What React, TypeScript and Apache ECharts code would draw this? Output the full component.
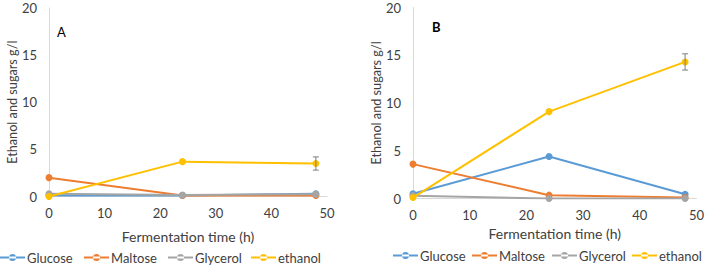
import React, { useEffect, useRef } from "react";
import * as echarts from "echarts";

const times = [0, 24, 48];
const seriesNames = ["Glucose", "Maltose", "Glycerol", "ethanol"];
const colors = ["#5B9BD5", "#ED7D31", "#A5A5A5", "#FFC000"];

const glucoseA = [0.1, 0.1, 0.3];
const maltoseA = [2.0, 0.1, 0.1];
const glycerolA = [0.3, 0.15, 0.25];
const ethanolA = [0.0, 3.7, 3.5];
const ethanolErrA = [0, 0, 0.7];

const glucoseB = [0.5, 4.4, 0.45];
const maltoseB = [3.6, 0.35, 0.1];
const glycerolB = [0.3, 0.0, 0.0];
const ethanolB = [0.1, 9.1, 14.3];
const ethanolErrB = [0, 0, 0.85];

const xTicks = [0, 10, 20, 30, 40, 50];
const yTicks = [0, 5, 10, 15, 20];

const FONT = "Lato, 'Open Sans', sans-serif";
const TXT = "#404040";
const LEGEND_ICON =
  "path://M0,2.5L25,2.5L25,4.5L0,4.5Z M9,3.5A3.5,3.5 0 1 0 16,3.5A3.5,3.5 0 1 0 9,3.5Z";

export default function App() {
  const ref = useRef<HTMLDivElement>(null);
  useEffect(() => {
    if (!ref.current) return;
    const chart = echarts.init(ref.current, undefined, { renderer: "svg" });
    const pair = (vals: number[]) => times.map((t, i) => [t, vals[i]]);
    const dataA = [glucoseA, maltoseA, glycerolA, ethanolA];
    const dataB = [glucoseB, maltoseB, glycerolB, ethanolB];

    const lineSeries = (vals: number[], idx: number, axis: number) => ({
      type: "line",
      name: seriesNames[idx],
      xAxisIndex: axis,
      yAxisIndex: axis,
      data: pair(vals),
      symbol: "circle",
      symbolSize: 7,
      lineStyle: { width: 2, color: colors[idx] },
      itemStyle: { color: colors[idx] },
      z: 2 + idx,
    });

    const errSeries = (vals: number[], errs: number[], axis: number) => ({
      type: "custom",
      name: "err" + axis,
      xAxisIndex: axis,
      yAxisIndex: axis,
      z: 10,
      data: times
        .map((t, i) => [t, vals[i] - errs[i], vals[i] + errs[i]])
        .filter((d, i) => errs[i] > 0),
      renderItem: (params: any, api: any) => {
        const x = api.value(0);
        const p1 = api.coord([x, api.value(1)]);
        const p2 = api.coord([x, api.value(2)]);
        const st = { stroke: "#7f7f7f", lineWidth: 1 };
        return {
          type: "group",
          children: [
            { type: "line", shape: { x1: p1[0], y1: p1[1], x2: p2[0], y2: p2[1] }, style: st },
            { type: "line", shape: { x1: p1[0] - 3, y1: p1[1], x2: p1[0] + 3, y2: p1[1] }, style: st },
            { type: "line", shape: { x1: p2[0] - 3, y1: p2[1], x2: p2[0] + 3, y2: p2[1] }, style: st },
          ],
        };
      },
    });

    const xAxis = (gi: number, gap: number) => ({
      type: "value",
      gridIndex: gi,
      min: xTicks[0],
      max: xTicks[xTicks.length - 1],
      interval: 10,
      name: "Fermentation time (h)",
      nameLocation: "middle",
      nameGap: gap,
      nameTextStyle: { fontFamily: FONT, fontSize: 14, color: TXT },
      axisLine: { show: true, lineStyle: { color: "#d9d9d9", width: 1 } },
      axisTick: { show: false },
      splitLine: { show: false },
      axisLabel: { fontFamily: FONT, fontSize: 13, color: TXT, margin: 10 },
    });
    const yAxis = (gi: number, gap: number) => ({
      type: "value",
      gridIndex: gi,
      min: yTicks[0],
      max: yTicks[yTicks.length - 1],
      interval: 5,
      name: "Ethanol and sugars g/l",
      nameLocation: "middle",
      nameGap: gap,
      nameTextStyle: { fontFamily: FONT, fontSize: 12.7, color: TXT },
      axisLine: { show: true, lineStyle: { color: "#d9d9d9", width: 1 } },
      axisTick: { show: false },
      splitLine: { show: false },
      axisLabel: { fontFamily: FONT, fontSize: 13, color: TXT, margin: 12 },
    });

    const legendLeftA = [0, 84, 168, 251];
    const legendLeftB = [393, 472, 552, 632];
    const legendItem = (name: string, left: number, top: number) => ({
      data: [name],
      orient: "horizontal",
      padding: 0,
      left,
      top,
      icon: LEGEND_ICON,
      itemWidth: 25,
      itemHeight: 7,
      textStyle: { fontFamily: FONT, fontSize: 13, color: TXT, padding: [0, 0, 0, -3] },
    });

    chart.setOption({
      animation: false,
      grid: [
        { left: 49, top: 8, width: 278, height: 188.5 },
        { left: 413, top: 7.5, width: 286, height: 191 },
      ],
      xAxis: [xAxis(0, 33), xAxis(1, 28)],
      yAxis: [yAxis(0, 28), yAxis(1, 29)],
      legend: [
        ...seriesNames.map((n, i) => legendItem(n, legendLeftA[i], 251)),
        ...seriesNames.map((n, i) => legendItem(n, legendLeftB[i], 249)),
      ],
      graphic: [
        { type: "text", left: 57, top: 25, style: { text: "A", font: "13px " + FONT, fill: "#000" } },
        { type: "text", left: 432, top: 20, style: { text: "B", font: "bold 13px " + FONT, fill: "#000" } },
      ],
      series: [
        ...dataA.map((v, i) => lineSeries(v, i, 0)),
        ...dataB.map((v, i) => lineSeries(v, i, 1)),
        errSeries(ethanolA, ethanolErrA, 0),
        errSeries(ethanolB, ethanolErrB, 1),
      ],
    });
    return () => chart.dispose();
  }, []);
  return <div ref={ref} style={{ width: 707, height: 266, position: "absolute", left: 0, top: 0, background: "#fff" }} />;
}
